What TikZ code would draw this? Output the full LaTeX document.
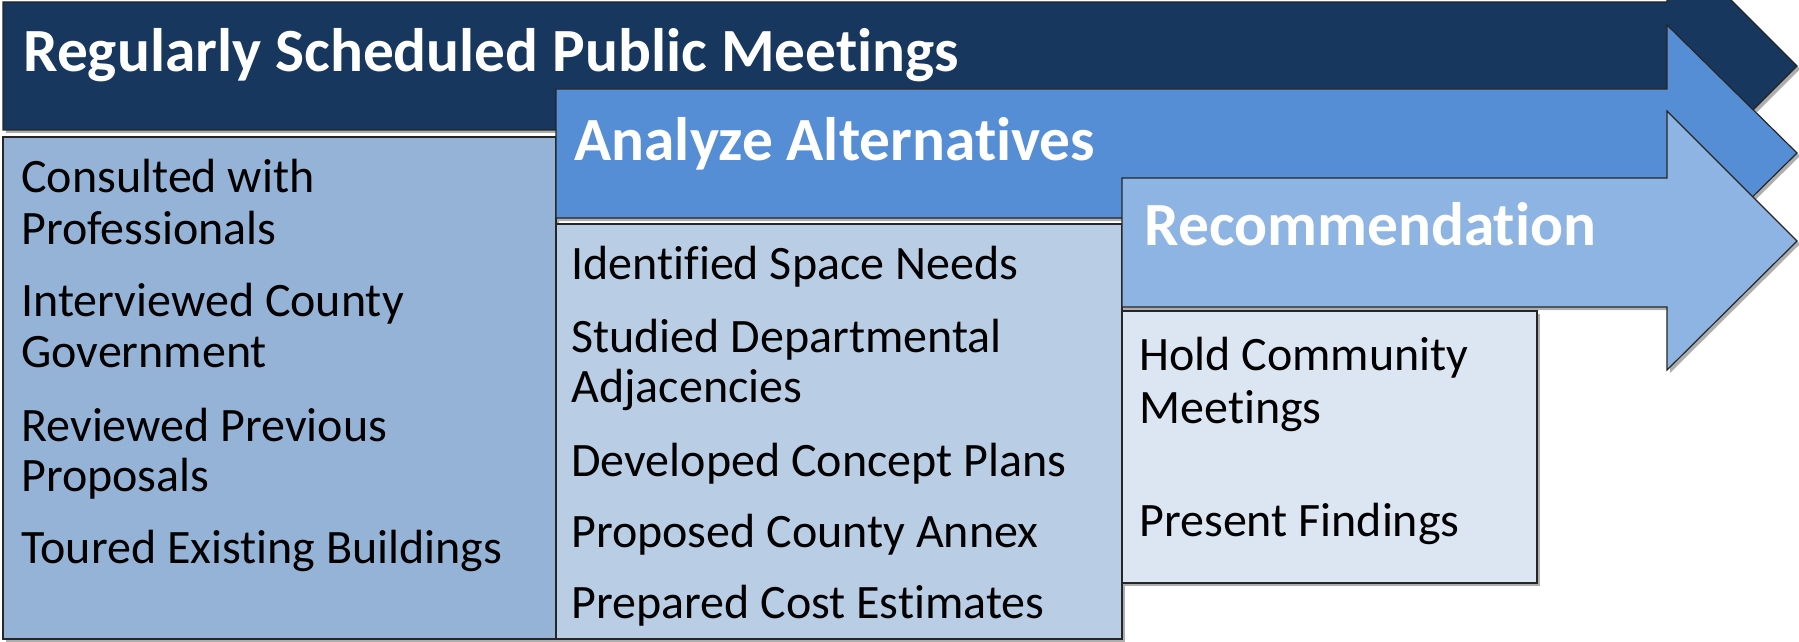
\documentclass[tikz,border=0pt]{standalone}
\usepackage{fontspec}
\setmainfont{Carlito}[Ligatures={NoCommon,NoContextual}]
\usetikzlibrary{shadows}
\definecolor{navy}{HTML}{17375E}
\definecolor{midblue}{HTML}{558ED5}
\definecolor{liteblue}{HTML}{8EB4E3}
\definecolor{boxa}{HTML}{95B3D7}
\definecolor{boxb}{HTML}{B9CDE5}
\definecolor{boxc}{HTML}{DCE6F2}
\tikzset{
  panel/.style={draw=black!85, line width=0.6pt, line join=miter,
    drop shadow={shadow xshift=1.5pt, shadow yshift=-1.5pt, opacity=0.45, fill=black!70}},
  hdr/.style={anchor=base west, inner sep=0pt, text=white, font=\fontsize{30.7}{36}\selectfont\bfseries},
  itm/.style={anchor=base west, inner sep=0pt, text=black, font=\fontsize{24}{28}\selectfont},
}
\begin{document}
\begin{tikzpicture}[x=0.5pt, y=-0.5pt]
\useasboundingbox (0,0) rectangle (1799,642);
\fill[white] (0,0) rectangle (1799,642);
% dark arrow
\path[panel, fill=navy] (3,2) -- (1667,2) -- (1667,-64) -- (1797,66) -- (1667,196) -- (1667,130) -- (3,130) -- cycle;
\node[hdr] (t1) at (23,72) {Regularly Scheduled Public Meetings};
% box 1
\path[panel, fill=boxa] (3,137) rectangle (556,639);
\node[itm] (a1) at (21,192) {Consulted with};
\node[itm] (a2) at (21,244) {Professionals};
\node[itm] (a3) at (21,316) {Interviewed County};
\node[itm] (a4) at (21,367) {Government};
\node[itm] (a5) at (21,441) {Reviewed Previous};
\node[itm] (a6) at (21,491) {Proposals};
\node[itm] (a7) at (21,563) {Toured Existing Buildings};
% medium arrow
\path[panel, fill=midblue] (556,89) -- (1667,89) -- (1667,25) -- (1797,153) -- (1667,281) -- (1667,218) -- (556,218) -- cycle;
\node[hdr] (t2) at (574,161) {Analyze Alternatives};
% box 2
\path[panel, fill=boxb] (556,224) rectangle (1122,639);
\node[itm] (b1) at (571,279) {Identified Space Needs};
\node[itm] (b2) at (571,352) {Studied Departmental};
\node[itm] (b3) at (571,402) {Adjacencies};
\node[itm] (b4) at (571,476) {Developed Concept Plans};
\node[itm] (b5) at (571,547) {Proposed County Annex};
\node[itm] (b6) at (571,618) {Prepared Cost Estimates};
% light arrow
\path[panel, fill=liteblue] (1122,178) -- (1667,178) -- (1667,111) -- (1797,241) -- (1667,370) -- (1667,307) -- (1122,307) -- cycle;
\node[hdr] (t3) at (1144,245) {Recommendation};
% box 3
\path[panel, fill=boxc] (1122,311) rectangle (1537,583);
\node[itm] (c1) at (1139,370) {Hold Community};
\node[itm] (c2) at (1139,423) {Meetings};
\node[itm] (c3) at (1139,536) {Present Findings};
\end{tikzpicture}
\end{document}
